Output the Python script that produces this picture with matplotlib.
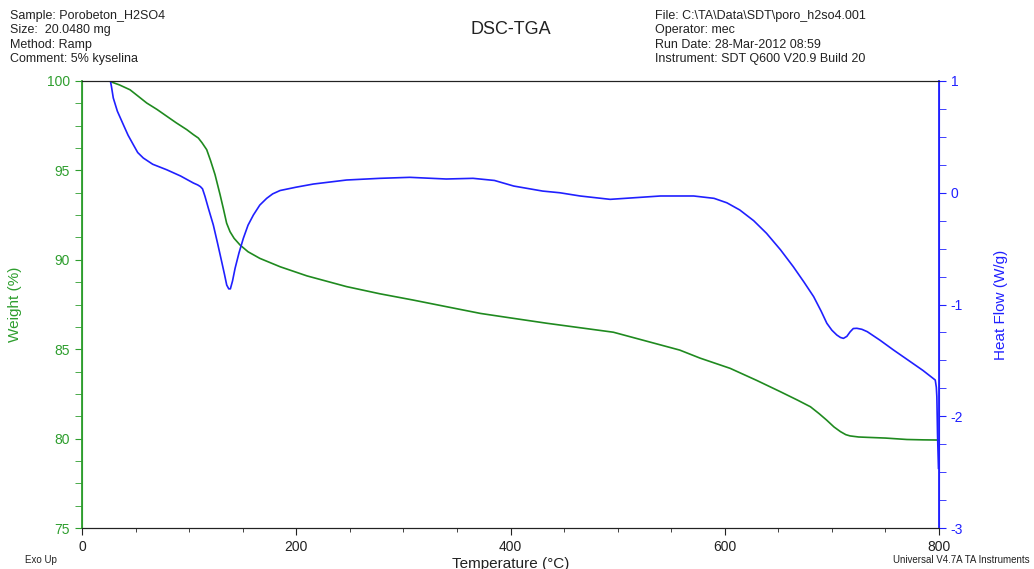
import matplotlib
matplotlib.use('Agg')
import matplotlib.pyplot as plt
from matplotlib.ticker import MultipleLocator

plt.rcParams['font.family'] = ['Liberation Sans', 'DejaVu Sans']
plt.rcParams['axes.unicode_minus'] = False

# --- data ---
weight_temp = [26, 27.7, 35, 44.8, 52, 60.4, 70, 79.1, 88, 97.8, 104, 108.6, 112, 116.4,
               120, 124.2, 128.9, 132, 135, 138.2, 142, 147.5, 155, 166, 185, 210, 247,
               278, 309, 340, 372, 400, 434, 465, 496, 527, 558, 577, 605, 630, 652, 668,
               680, 688, 695, 702, 708, 713, 717, 725, 733, 750, 770, 785, 799.5]
weight_pct = [100.0, 99.94, 99.78, 99.51, 99.17, 98.77, 98.41, 98.03, 97.66, 97.28, 97.0,
              96.81, 96.55, 96.16, 95.55, 94.76, 93.64, 92.85, 92.05, 91.57, 91.2, 90.83,
              90.45, 90.08, 89.61, 89.1, 88.5, 88.1, 87.75, 87.38, 87.0, 86.75, 86.45,
              86.2, 85.95, 85.45, 84.95, 84.5, 83.93, 83.25, 82.62, 82.15, 81.78, 81.4,
              81.04, 80.65, 80.39, 80.22, 80.15, 80.09, 80.07, 80.03, 79.95, 79.93, 79.92]

heat_temp = [26.7, 27.5, 29.2, 33, 38.6, 43, 47.9, 52, 57.2, 66, 79, 92, 104, 108, 110.5,
             112.5, 114.8, 118, 122.6, 126.5, 130.4, 133, 135.1, 137, 138.5, 140.5, 142.9,
             146.5, 150.6, 155, 160, 166, 172.4, 178, 184.9, 200, 216, 247, 278, 306,
             340, 365, 385, 403, 430, 446, 465, 493, 515, 540, 571, 590, 602, 614, 627,
             639, 652, 664, 674, 683, 690, 695.3, 700, 704.6, 708, 710.8, 714, 717, 720,
             723.3, 728, 733, 745, 757.5, 770, 785, 796.5, 797.5, 798, 798.6, 799.5]
heat_flow = [0.99, 0.95, 0.848, 0.73, 0.609, 0.515, 0.43, 0.36, 0.311, 0.255, 0.206,
             0.15, 0.087, 0.07, 0.055, 0.035, -0.032, -0.14, -0.289, -0.45, -0.617,
             -0.73, -0.826, -0.86, -0.86, -0.79, -0.676, -0.54, -0.408, -0.29, -0.199,
             -0.11, -0.05, -0.01, 0.02, 0.05, 0.078, 0.114, 0.129, 0.138, 0.123, 0.129,
             0.11, 0.06, 0.015, 0.0, -0.029, -0.059, -0.045, -0.029, -0.029, -0.05,
             -0.09, -0.154, -0.25, -0.363, -0.51, -0.662, -0.80, -0.93, -1.06, -1.168,
             -1.23, -1.273, -1.295, -1.303, -1.285, -1.245, -1.215, -1.213, -1.222,
             -1.243, -1.32, -1.407, -1.49, -1.59, -1.676, -1.74, -1.825, -2.15, -2.466]

green = '#1f8a1f'
green_txt = '#2e9e2e'
blue = '#2020ff'
dark = '#222222'

fig = plt.figure(figsize=(10.34, 5.69), dpi=100)
ax = fig.add_axes([82 / 1034, 1 - 528 / 569, 857 / 1034, 447 / 569])
ax2 = ax.twinx()

ax.plot(weight_temp, weight_pct, color=green, linewidth=1.2)
ax2.plot(heat_temp, heat_flow, color=blue, linewidth=1.2)

ax.set_xlim(0, 800)
ax.set_ylim(75, 100)
ax2.set_ylim(-3, 1)

ax.xaxis.set_major_locator(MultipleLocator(200))
ax.xaxis.set_minor_locator(MultipleLocator(50))
ax.yaxis.set_major_locator(MultipleLocator(5))
ax.yaxis.set_minor_locator(MultipleLocator(1.25))
ax2.yaxis.set_major_locator(MultipleLocator(1))
ax2.yaxis.set_minor_locator(MultipleLocator(0.25))

# spines
for a in (ax, ax2):
    a.spines['top'].set_color(dark)
    a.spines['bottom'].set_color(dark)
    a.spines['left'].set_color(green_txt)
    a.spines['right'].set_color(blue)
ax.spines['left'].set_linewidth(1.3)
ax2.spines['right'].set_linewidth(1.3)

ax.tick_params(axis='x', which='both', direction='out', colors=dark, labelsize=10)
ax.tick_params(axis='x', which='major', length=5)
ax.tick_params(axis='x', which='minor', length=3)
ax.tick_params(axis='y', which='both', direction='out', colors=green_txt, labelsize=10, length=5)
ax2.tick_params(axis='y', which='both', direction='out', colors=blue, labelsize=10, length=5)

ax.set_xlabel('Temperature (°C)', color=dark, fontsize=11, labelpad=2)
ax.set_ylabel('Weight (%)', color=green_txt, fontsize=11, labelpad=18)
ax2.set_ylabel('Heat Flow (W/g)', color=blue, fontsize=11, labelpad=22)

# header
left_hdr = ['Sample: Porobeton_H2SO4', 'Size:  20.0480 mg', 'Method: Ramp', 'Comment: 5% kyselina']
right_hdr = ['File: C:\\TA\\Data\\SDT\\poro_h2so4.001', 'Operator: mec',
             'Run Date: 28-Mar-2012 08:59', 'Instrument: SDT Q600 V20.9 Build 20']
for i, s in enumerate(left_hdr):
    fig.text(10 / 1034, 1 - (16 + 14.3 * i) / 569, s, fontsize=9, color=dark, va='center')
for i, s in enumerate(right_hdr):
    fig.text(655 / 1034, 1 - (16 + 14.3 * i) / 569, s, fontsize=9, color=dark, va='center')
fig.text(511 / 1034, 1 - 30 / 569, 'DSC-TGA', fontsize=13, color=dark, ha='center', va='center')

fig.text(25 / 1034, 1 - 560 / 569, 'Exo Up', fontsize=7, color=dark, va='center')
fig.text(1030 / 1034, 1 - 560 / 569, 'Universal V4.7A TA Instruments', fontsize=7,
         color=dark, ha='right', va='center')

fig.savefig('out.png', dpi=100)
